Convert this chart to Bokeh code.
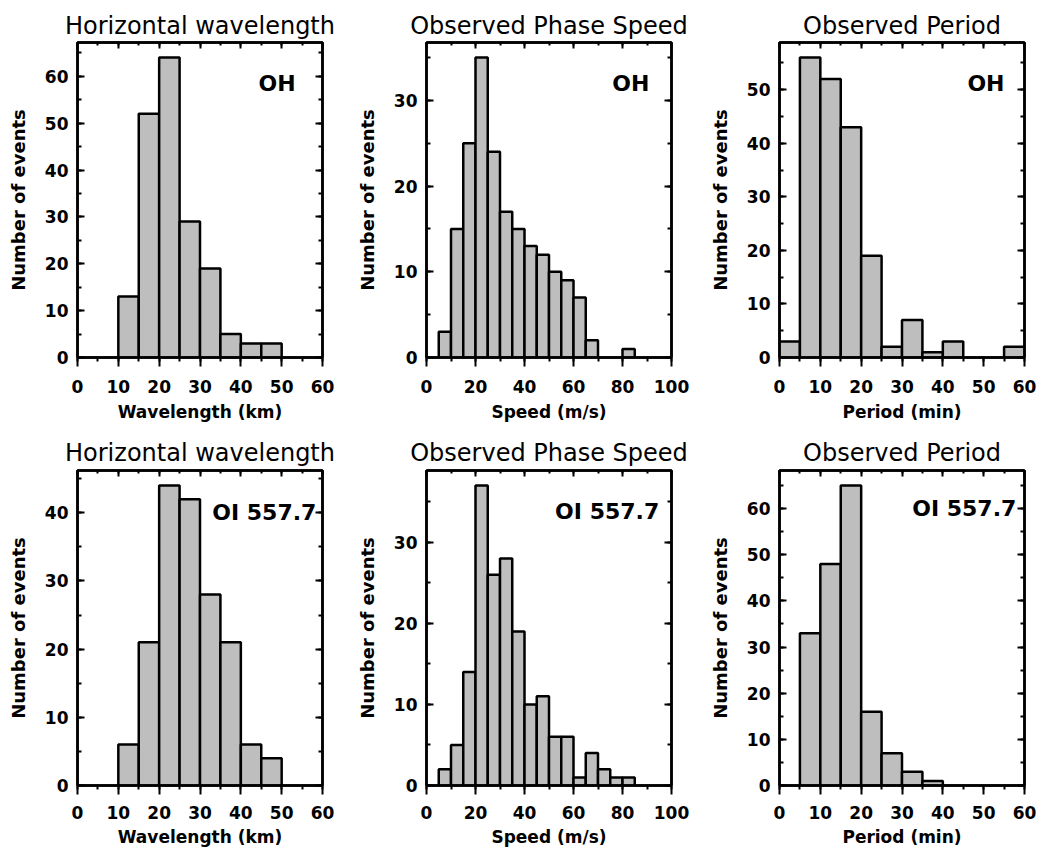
from bokeh.plotting import figure
from bokeh.models import Range1d, LinearAxis, SingleIntervalTicker, Label, CustomJSTickFormatter
from bokeh.layouts import row, column
from bokeh.embed import file_html
from bokeh.resources import INLINE

# ---------------- data (counts per 5-unit bin, bins start at 0) ----------------
bin_width = 5
oh_wavelength_counts = [0, 0, 13, 52, 64, 29, 19, 5, 3, 3, 0, 0]
oh_speed_counts = [0, 3, 15, 25, 35, 24, 17, 15, 13, 12, 10, 9, 7, 2, 0, 0, 1, 0, 0, 0]
oh_period_counts = [3, 56, 52, 43, 19, 2, 7, 1, 3, 0, 0, 2]
oi_wavelength_counts = [0, 0, 6, 21, 44, 42, 28, 21, 6, 4, 0, 0]
oi_speed_counts = [0, 2, 5, 14, 37, 26, 28, 19, 10, 11, 6, 6, 1, 4, 2, 1, 1, 0, 0, 0]
oi_period_counts = [0, 33, 48, 65, 16, 7, 3, 1, 0, 0, 0, 0]

titles = ["Horizontal wavelength", "Observed Phase Speed", "Observed Period"]
x_labels = ["Wavelength (km)", "Speed (m/s)", "Period (min)"]
x_max = [60, 100, 60]
x_tick_interval = [10, 20, 10]
y_label = "Number of events"
tags = ["OH", "OI 557.7"]

# tag anchor positions (data units, right-aligned)
tag_pos = [
    [(53.4, 58.5), (91.0, 32.0), (55.1, 51.1)],
    [(58.5, 40.0), (95.0, 33.8), (58.0, 60.0)],
]

FONT = "DejaVu Sans"
FILL = "#bebebe"
INK = "black"

col_borders = [(77, 23), (81, 19), (89, 13)]
# (top border, bottom border, tick label standoff, axis label standoff, title standoff)
row_style = [(42, 63, 13, 6, 6), (46, 66, 11, 5, 8)]


def make_panel(r, c, counts):
    left = [i * bin_width for i in range(len(counts)) if counts[i] > 0]
    right = [i * bin_width + bin_width for i in range(len(counts)) if counts[i] > 0]
    top = [v for v in counts if v > 0]
    bl, br = col_borders[c]
    bt, bb, tick_so, lab_so, title_so = row_style[r]
    p = figure(frame_width=245, frame_height=315,
               min_border_left=bl, min_border_right=br,
               min_border_top=bt, min_border_bottom=bb,
               x_range=Range1d(0, x_max[c]), y_range=Range1d(0, max(counts) * 1.05),
               output_backend="svg", toolbar_location=None,
               title=titles[c])
    p.grid.visible = False
    p.background_fill_color = "white"
    p.border_fill_color = "white"
    p.outline_line_color = INK
    p.outline_line_width = 2.5

    p.quad(left=left, right=right, top=top, bottom=0,
           fill_color=FILL, line_color=INK, line_width=2.5)

    p.title.text_font = FONT
    p.title.text_font_size = "24px"
    p.title.text_font_style = "normal"
    p.title.text_color = INK
    p.title.align = "center"
    p.title.standoff = title_so

    xt = SingleIntervalTicker(interval=x_tick_interval[c], num_minor_ticks=2)
    yt = SingleIntervalTicker(interval=10, num_minor_ticks=2)

    xa = p.xaxis[0]
    xa.ticker = xt
    xa.axis_label = x_labels[c]
    xa.axis_label_text_font = FONT
    xa.axis_label_text_font_style = "bold"
    xa.axis_label_text_font_size = "17px"
    xa.axis_label_text_color = INK
    xa.axis_label_standoff = lab_so
    xa.major_label_text_font = FONT
    xa.major_label_text_font_style = "bold"
    xa.major_label_text_font_size = "17px"
    xa.major_label_text_color = INK
    xa.major_label_standoff = tick_so
    xa.major_tick_in = 0
    xa.major_tick_out = 9
    xa.minor_tick_in = 0
    xa.minor_tick_out = 4
    xa.axis_line_width = 2.5
    xa.axis_line_color = INK
    xa.major_tick_line_color = INK
    xa.minor_tick_line_color = INK
    xa.major_tick_line_width = 2
    xa.minor_tick_line_width = 2

    ya = p.yaxis[0]
    ya.ticker = yt
    ya.axis_label = y_label
    ya.axis_label_text_font = FONT
    ya.axis_label_text_font_style = "bold"
    ya.axis_label_text_font_size = "18px"
    ya.axis_label_text_color = INK
    ya.axis_label_standoff = 13
    ya.major_label_text_font = FONT
    ya.major_label_text_font_style = "bold"
    ya.major_label_text_font_size = "17px"
    ya.major_label_text_color = INK
    ya.major_label_standoff = 9
    ya.major_label_orientation = "horizontal"
    ya.major_tick_in = 7
    ya.major_tick_out = 0
    ya.minor_tick_in = 4
    ya.minor_tick_out = 0
    ya.axis_line_width = 2.5
    ya.axis_line_color = INK
    ya.major_tick_line_color = INK
    ya.minor_tick_line_color = INK
    ya.major_tick_line_width = 2
    ya.minor_tick_line_width = 2

    ta = LinearAxis(ticker=SingleIntervalTicker(interval=x_tick_interval[c], num_minor_ticks=2),
                    formatter=CustomJSTickFormatter(code="return ''"),
                    major_tick_in=6, major_tick_out=0,
                    minor_tick_in=3, minor_tick_out=0, axis_line_width=2.5,
                    axis_line_color=INK, major_tick_line_color=INK, minor_tick_line_color=INK,
                    major_tick_line_width=2, minor_tick_line_width=2,
                    major_label_text_font_size="0px", major_label_standoff=0)
    ra = LinearAxis(ticker=SingleIntervalTicker(interval=10, num_minor_ticks=2),
                    formatter=CustomJSTickFormatter(code="return ''"),
                    major_tick_in=7, major_tick_out=0,
                    minor_tick_in=4, minor_tick_out=0, axis_line_width=2.5,
                    axis_line_color=INK, major_tick_line_color=INK, minor_tick_line_color=INK,
                    major_tick_line_width=2, minor_tick_line_width=2,
                    major_label_text_font_size="0px", major_label_standoff=0)
    p.add_layout(ta, "above")
    p.add_layout(ra, "right")

    tx, ty = tag_pos[r][c]
    p.add_layout(Label(x=tx, y=ty, text=tags[r], text_align="right",
                       text_baseline="middle", text_font=FONT, text_font_style="bold",
                       text_font_size="22px", text_color=INK))
    return p


panels_top = [make_panel(0, 0, oh_wavelength_counts),
              make_panel(0, 1, oh_speed_counts),
              make_panel(0, 2, oh_period_counts)]
panels_bot = [make_panel(1, 0, oi_wavelength_counts),
              make_panel(1, 1, oi_speed_counts),
              make_panel(1, 2, oi_period_counts)]

layout = column(row(*panels_top, spacing=0), row(*panels_bot, spacing=0), spacing=0)

html = file_html(layout, INLINE)
html = html.replace("<body>", "<body style=\"margin:0;padding:0;\">")
open("out.html", "w").write(html)
